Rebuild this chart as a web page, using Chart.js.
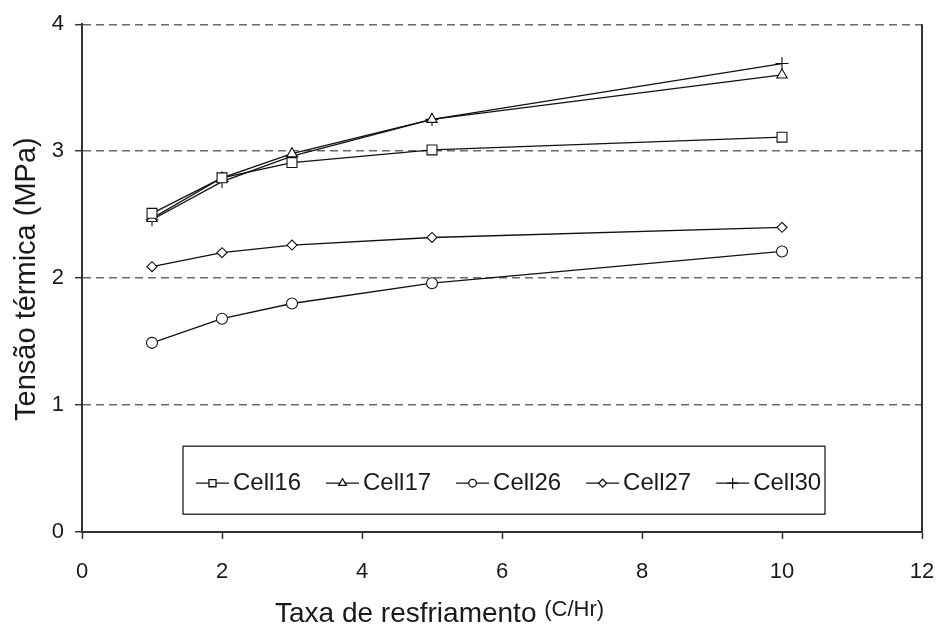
<!DOCTYPE html>
<html>
<head>
<meta charset="utf-8">
<title>Tensão térmica x Taxa de resfriamento</title>
<script src="https://cdn.jsdelivr.net/npm/chart.js@4.4.0/dist/chart.umd.min.js"></script>
<style>
  html, body { margin: 0; padding: 0; background: #fff; }
</style>
</head>
<body>
<canvas id="chartTensao" width="940" height="627"></canvas>
<script>
// ============================================================
// Tensão térmica vs taxa de resfriamento
// ============================================================

// taxa de resfriamento (C/Hr)
const taxas = [1, 2, 3, 5, 10];

// tensão térmica (MPa) por célula
const cell16 = [2.51, 2.79, 2.91, 3.01, 3.11];
const cell17 = [2.47, 2.79, 2.98, 3.25, 3.60];
const cell26 = [1.49, 1.68, 1.80, 1.96, 2.21];
const cell27 = [2.09, 2.20, 2.26, 2.32, 2.40];
const cell30 = [2.46, 2.76, 2.96, 3.25, 3.69];

const xTicks = [0, 2, 4, 6, 8, 10, 12];
const yTicks = [0, 1, 2, 3, 4];

const FONT = '"Liberation Sans", Arial, sans-serif';
const INK = '#1a1a1a';

const series = [
  { label: 'Cell16', values: cell16, style: 'rect', radius: 7, legendRadius: 5 },
  { label: 'Cell17', values: cell17, style: 'triangle', radius: 6, legendRadius: 4.5 },
  { label: 'Cell26', values: cell26, style: 'circle', radius: 5.5, legendRadius: 3.8 },
  { label: 'Cell27', values: cell27, style: 'rectRot', radius: 5, legendRadius: 4 },
  { label: 'Cell30', values: cell30, style: 'cross', radius: 6.5, legendRadius: 5.5 }
];

// titles, right frame and the boxed legend inside the plot
const decorPlugin = {
  id: 'decor',
  afterDraw(chart) {
    const { ctx, chartArea: ca } = chart;
    ctx.save();

    // right frame line
    ctx.strokeStyle = '#333';
    ctx.lineWidth = 2;
    ctx.beginPath();
    ctx.moveTo(ca.right, ca.top);
    ctx.lineTo(ca.right, ca.bottom + 1);
    ctx.stroke();

    // x title
    ctx.fillStyle = INK;
    ctx.textBaseline = 'alphabetic';
    ctx.textAlign = 'left';
    ctx.font = '28px ' + FONT;
    const mainTxt = 'Taxa de resfriamento ';
    const xt = ca.left + 193;
    ctx.fillText(mainTxt, xt, 622);
    const w = ctx.measureText(mainTxt).width;
    ctx.font = '22px ' + FONT;
    ctx.fillText('(C/Hr)', xt + w, 616);

    // y title
    ctx.save();
    ctx.translate(35, (ca.top + ca.bottom) / 2 + 1);
    ctx.rotate(-Math.PI / 2);
    ctx.textAlign = 'center';
    ctx.font = '29px ' + FONT;
    ctx.fillText('Tensão térmica (MPa)', 0, 0);
    ctx.restore();

    // legend box
    const bx = ca.left + 101, by = ca.top + 422;
    const bw = ca.right - 97 - bx, bh = 68;
    ctx.fillStyle = '#fff';
    ctx.fillRect(bx, by, bw, bh);
    ctx.strokeStyle = '#222';
    ctx.lineWidth = 1.3;
    ctx.strokeRect(bx, by, bw, bh);

    ctx.font = '24px ' + FONT;
    ctx.textBaseline = 'middle';
    const ly = by + 37;
    let x = bx + 13;
    series.forEach(s => {
      ctx.strokeStyle = '#111';
      ctx.lineWidth = 1.3;
      ctx.beginPath();
      ctx.moveTo(x, ly);
      ctx.lineTo(x + 33, ly);
      ctx.stroke();
      ctx.fillStyle = '#fff';
      Chart.helpers.drawPoint(ctx, {
        pointStyle: s.style, radius: s.legendRadius, rotation: 0, borderWidth: 1.1
      }, x + 16.5, ly);
      ctx.fillStyle = INK;
      ctx.fillText(s.label, x + 37, ly);
      x += 37 + ctx.measureText(s.label).width + 25;
    });

    ctx.restore();
  }
};

const chartTensao = new Chart(document.getElementById('chartTensao'), {
  type: 'line',
  data: {
    datasets: series.map(s => ({
      label: s.label,
      data: taxas.map((t, i) => ({ x: t, y: s.values[i] })),
      borderColor: '#111',
      borderWidth: 1.3,
      tension: 0,
      pointStyle: s.style,
      pointRadius: s.radius,
      pointBorderWidth: 1.1,
      pointBorderColor: '#111',
      pointBackgroundColor: '#fff'
    }))
  },
  options: {
    responsive: false,
    animation: false,
    layout: { padding: { top: 23, right: 18, bottom: 0, left: 0 } },
    plugins: {
      legend: { display: false },
      tooltip: { enabled: false }
    },
    scales: {
      x: {
        type: 'linear',
        min: 0,
        max: 12,
        afterBuildTicks: scale => { scale.ticks = xTicks.map(v => ({ value: v })); },
        afterFit: scale => {
          scale.height = 95;
          scale.paddingLeft = 0;
          scale.paddingRight = 0;
        },
        ticks: { color: INK, font: { family: FONT, size: 22 }, padding: 20 },
        grid: { drawOnChartArea: false, drawTicks: true, tickLength: 7, tickColor: '#333', tickWidth: 1.5 },
        border: { display: true, color: '#333', width: 2 }
      },
      y: {
        min: 0,
        max: 4,
        afterBuildTicks: scale => { scale.ticks = yTicks.map(v => ({ value: v })); },
        afterFit: scale => { scale.width = 82; },
        ticks: { color: INK, font: { family: FONT, size: 22 }, padding: 11 },
        grid: {
          color: ctx => (ctx.tick && ctx.tick.value === 0 ? 'rgba(0,0,0,0)' : '#6a6a6a'),
          lineWidth: 1.4,
          tickLength: 7,
          tickColor: '#333',
          tickWidth: 1.5,
          tickBorderDash: []
        },
        border: { display: true, color: '#333', width: 2, dash: [8, 5] }
      }
    }
  },
  plugins: [decorPlugin]
});
</script>
</body>
</html>
